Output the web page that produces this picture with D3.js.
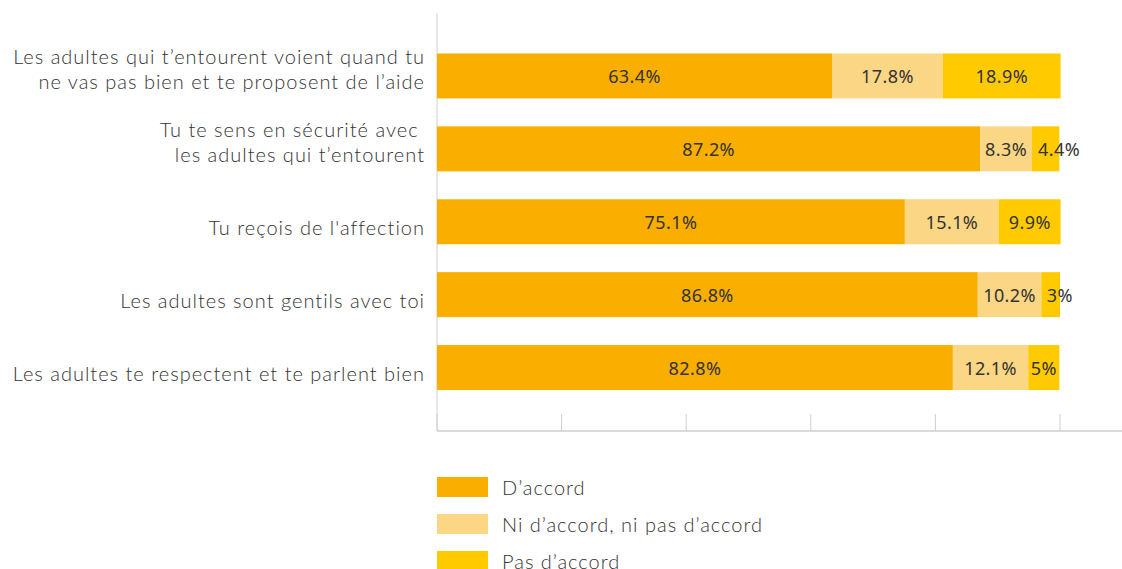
<!DOCTYPE html>
<html><head><meta charset="utf-8">
<script src="https://cdn.jsdelivr.net/npm/d3@7"></script>
<style>
body{margin:0;background:#fff;}
svg text{white-space:pre;}
</style></head>
<body><svg id="c" width="1122" height="569"></svg>
<script>
const categories = [
  ["Les adultes qui t\u2019entourent voient quand tu", "ne vas pas bien et te proposent de l\u2019aide"],
  ["Tu te sens en s\u00e9curit\u00e9 avec ", "les adultes qui t\u2019entourent"],
  ["Tu re\u00e7ois de l'affection"],
  ["Les adultes sont gentils avec toi"],
  ["Les adultes te respectent et te parlent bien"]
];
const seriesNames = ["D\u2019accord", "Ni d\u2019accord, ni pas d\u2019accord", "Pas d\u2019accord"];
const accord = [63.4, 87.2, 75.1, 86.8, 82.8];
const neutre = [17.8, 8.3, 15.1, 10.2, 12.1];
const pasAccord = [18.9, 4.4, 9.9, 3, 5];
const xTicks = [0, 20, 40, 60, 80, 100];
const colors = ["#F9AE00", "#FBD684", "#FFCB00"];

const labelFont = "Lato";
const valueFont = "'Noto Sans'";

const svg = d3.select("#c");
const x = d3.scaleLinear().domain([0, 100]).range([437, 1060]);
const y = d3.scaleBand().domain(d3.range(categories.length)).range([39.5, 404]).paddingInner(0.383).paddingOuter(0.1915);

const rows = categories.map((c, i) => ({i, vals: [accord[i], neutre[i], pasAccord[i]]}));

// axes
svg.append("line").attr("x1", 437).attr("x2", 437).attr("y1", 13).attr("y2", 431).attr("stroke", "#cfcfcf").attr("stroke-width", 1);
svg.append("line").attr("x1", 437).attr("x2", 1122).attr("y1", 431).attr("y2", 431).attr("stroke", "#cfcfcf").attr("stroke-width", 1.5);
svg.selectAll(".tick").data(xTicks).join("line")
  .attr("x1", d => x(d)).attr("x2", d => x(d)).attr("y1", 414).attr("y2", 431)
  .attr("stroke", "#cfcfcf").attr("stroke-width", 1);

// bars
rows.forEach(r => {
  let cum = 0;
  r.vals.forEach((v, k) => {
    const x0 = x(cum), x1 = x(cum + v);
    svg.append("rect").attr("x", x0).attr("y", y(r.i)).attr("width", x1 - x0).attr("height", y.bandwidth()).attr("fill", colors[k]);
    cum += v;
  });
  cum = 0;
  let prevRight = -Infinity;
  r.vals.forEach((v, k) => {
    const cx = x(cum + v / 2);
    const t = svg.append("text").attr("y", y(r.i) + y.bandwidth() / 2 + 7)
      .attr("text-anchor", "start").style("font-family", valueFont).attr("font-size", 18)
      .style("letter-spacing", "0.4px")
      .attr("fill", "#333").text(d3.format("")(v) + "%");
    const w = t.node().getComputedTextLength();
    let left = cx - w / 2;
    if (left < prevRight + 11) left = prevRight + 11;
    t.attr("x", left);
    prevRight = left + w;
    cum += v;
  });
});

// category labels
categories.forEach((lines, i) => {
  const cy = y(i) + y.bandwidth() / 2;
  const lh = 25.5;
  const n = lines.length;
  const t = svg.append("text").attr("text-anchor", "end").style("font-family", labelFont).attr("font-weight", 300)
    .attr("font-size", 20).style("letter-spacing", "1px").attr("fill", "#333");
  lines.forEach((l, j) => {
    t.append("tspan").attr("x", 425).attr("y", cy + 13.3 - (n - 1) * lh + j * lh).text(l);
  });
});

// legend
seriesNames.forEach((n, k) => {
  const ly = 477 + k * 37;
  svg.append("rect").attr("x", 437).attr("y", ly).attr("width", 51).attr("height", 20).attr("fill", colors[k]);
  svg.append("text").attr("x", 502).attr("y", ly + 17.5).style("font-family", labelFont).attr("font-weight", 300)
    .attr("font-size", 20).style("letter-spacing", "1px").attr("fill", "#333").text(n);
});
</script></body></html>
